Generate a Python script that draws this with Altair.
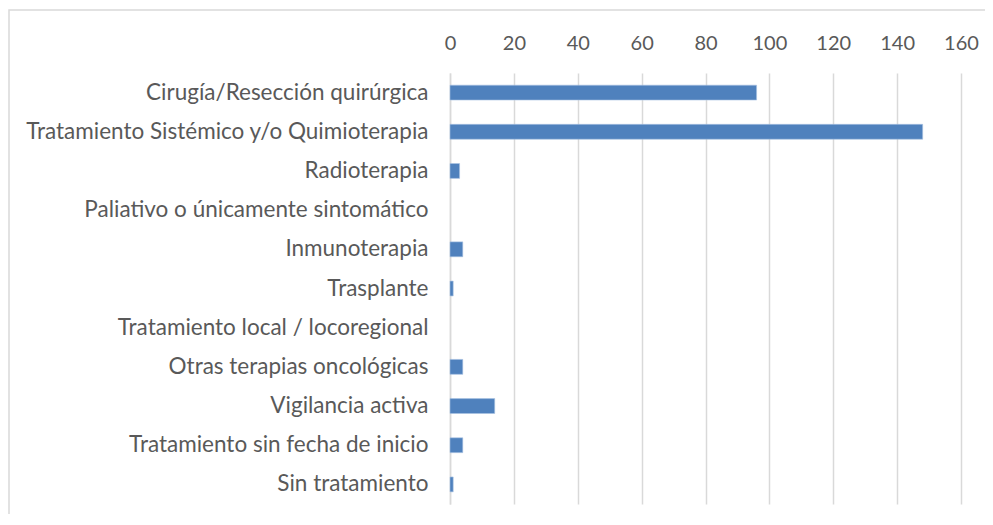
import altair as alt
import pandas as pd

categories = [
    "Cirugía/Resección quirúrgica",
    "Tratamiento Sistémico y/o Quimioterapia",
    "Radioterapia",
    "Paliativo o únicamente sintomático",
    "Inmunoterapia",
    "Trasplante",
    "Tratamiento local / locoregional",
    "Otras terapias oncológicas",
    "Vigilancia activa",
    "Tratamiento sin fecha de inicio",
    "Sin tratamiento",
]
values = [96, 148, 3, 0, 4, 1, 0, 4, 14, 4, 1]
x_ticks = [0, 20, 40, 60, 80, 100, 120, 140, 160]

df = pd.DataFrame({"cat": categories, "val": values})

FONT = "Lato"

bars = alt.Chart(df).transform_filter("datum.val > 0").mark_bar(
    color="#4f81bd", stroke="#a9c2e3", strokeWidth=0.6
).encode(
    x=alt.X("val:Q", scale=alt.Scale(domain=[0, 160], nice=False),
            axis=alt.Axis(orient="top", values=x_ticks, title=None, grid=True,
                          gridColor="#d9d9d9", gridWidth=1.5, domain=False,
                          ticks=False, labelFont=FONT, labelFontSize=20,
                          labelColor="#595959", labelPadding=20,
                          labelFlush=False)),
    y=alt.Y("cat:N", sort=categories,
            scale=alt.Scale(domain=categories, paddingInner=0.62, paddingOuter=0.31),
            axis=alt.Axis(title=None, domain=True, domainColor="#d9d9d9",
                          domainWidth=1.5, ticks=False, labelFont=FONT,
                          labelFontSize=22.5, labelColor="#595959",
                          labelPadding=22, labelLimit=500)),
)

border = alt.Chart(pd.DataFrame({"a": [0]})).mark_rect(
    fill=None, stroke="#d9d9d9", strokeWidth=1.5
).encode(
    x=alt.value(-441), x2=alt.value(560), y=alt.value(-63), y2=alt.value(470)
)

chart = alt.layer(bars, border).properties(
    width=511, height=431,
    autosize=alt.AutoSizeParams(type="none"),
    padding={"left": 442, "top": 65, "right": 24, "bottom": 10},
).configure_view(stroke=None)

chart.save("out.html", embed_options={"renderer": "svg", "actions": False})
